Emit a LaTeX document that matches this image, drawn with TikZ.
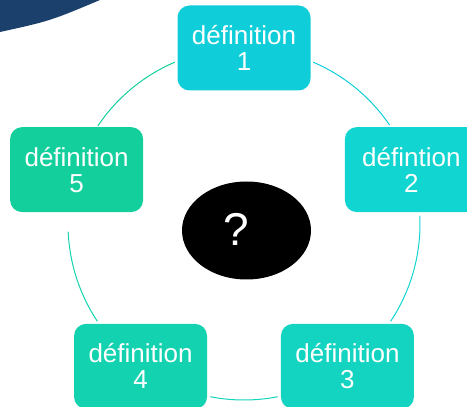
\documentclass[tikz,border=0pt]{standalone}
\usepackage{fontspec}
\setmainfont{Liberation Sans}
\usepackage{tikz}
\usetikzlibrary{calc}
\usetikzlibrary{positioning}

\definecolor{navy}{HTML}{1B406C}
\definecolor{cyanA}{HTML}{0FCED9}
\definecolor{cyanB}{HTML}{10D5D1}
\definecolor{tealC}{HTML}{12D4C0}
\definecolor{tealD}{HTML}{13D2AF}
\definecolor{greenE}{HTML}{13CF9C}

\tikzset{
  defbox/.style={rounded corners=12pt, minimum width=133pt, minimum height=85pt,
    text=white, align=center, inner sep=0pt, font=\fontsize{26}{26}\selectfont},
  ringarc/.style={line width=1pt},
}

\begin{document}
\begin{tikzpicture}[x=1pt, y=1pt, line cap=round, line join=round]
        \useasboundingbox (0,0) rectangle (467,407);
        \clip (0,0) rectangle (467,407);

        % corner shape
        \fill[navy] (0,407) -- (100,407) .. controls (50,386) .. (0,375) -- cycle;

        % ring centre
        \coordinate (ring) at (244,183);

        % ring pieces between the boxes
        \draw[ringarc, cyanA] ($(ring)+(66.8:176)$) arc[start angle=66.8, end angle=34.3, radius=176];
        \draw[ringarc, cyanB] ($(ring)+(2.6:176)$) arc[start angle=2.6, end angle=-33.5, radius=176];
        \draw[ringarc, tealC] ($(ring)+(-79:176)$) arc[start angle=-79, end angle=-101, radius=176];
        \draw[ringarc, tealD] ($(ring)+(-146.5:176)$) arc[start angle=-146.5, end angle=-177.4, radius=176];
        \draw[ringarc, greenE] ($(ring)+(146.1:176)$) arc[start angle=146.1, end angle=113.2, radius=176];

        % boxes
        \node[defbox, fill=cyanA] (def1) at ($(ring)+(90:176)$) {définition\\1};
        \node[defbox, fill=cyanB] (def2) at ($(ring)+(18:176)$) {défintion\\2};
        \node[defbox, fill=tealC] (def3) at ($(ring)+(-54:176)$) {définition\\3};
        \node[defbox, fill=tealD] (def4) at ($(ring)+(-126:176)$) {définition\\4};
        \node[defbox, fill=greenE] (def5) at ($(ring)+(162:176)$) {définition\\5};

        % centre question
        \fill (246.5,176.5) ellipse[x radius=64.5, y radius=49];
        \node[text=white, font=\fontsize{46}{46}\selectfont] (quest) at (236,178) {?};
    \end{tikzpicture}
\end{document}
